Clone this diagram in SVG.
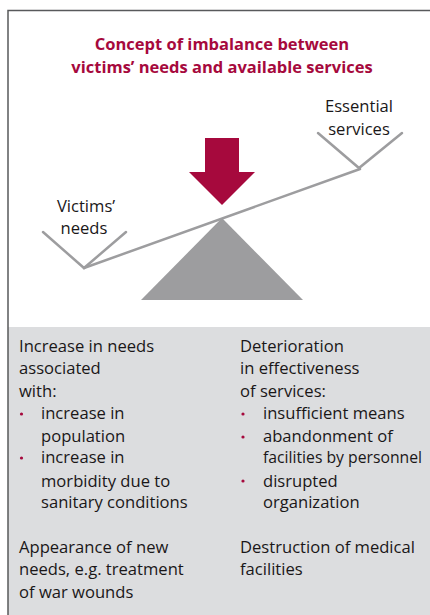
<svg xmlns="http://www.w3.org/2000/svg" width="430" height="615" viewBox="0 0 430 615">
<style>
.t{font-family:"Open Sans","Noto Sans","Liberation Sans",sans-serif;font-size:16.6px;fill:#1a1718}
.h{font-family:"Open Sans","Noto Sans","Liberation Sans",sans-serif;font-size:16.5px;font-weight:bold;fill:#a6093d}
.g{stroke:#9d9d9f;stroke-width:2.5;fill:none;stroke-linecap:round}
.b{fill:#a6093d}
</style>
<rect x="0" y="0" width="430" height="615" fill="#ffffff"/>
<rect x="8" y="327" width="422" height="288" fill="#dcdddf"/>
<path d="M8,615 V10.5 H430" fill="none" stroke="#58595b" stroke-width="1.5"/>
<g id="title">
<text class="h" x="222" y="50" text-anchor="middle">Concept of imbalance between</text>
<text class="h" x="222" y="73" text-anchor="middle">victims’ needs and available services</text>
</g>
<g id="fulcrum"><polygon points="222,218 303,300 141,300" fill="#9d9d9f"/></g>
<g id="connectors">
<line class="g" x1="84" y1="268" x2="360" y2="169"/>
<polyline class="g" points="43,232 84,268 126,232"/>
<polyline class="g" points="318,133 359,168 402,133"/>
</g>
<g id="arrow"><polygon class="b" points="205,138 239,138 239,172 255,172 222,205 189,172 205,172"/></g>
<g id="essential">
<text class="t" x="359" y="112" text-anchor="middle">Essential</text>
<text class="t" x="359" y="135" text-anchor="middle">services</text>
</g>
<g id="victims">
<text class="t" x="86" y="212" text-anchor="middle">Victims’</text>
<text class="t" x="84" y="234" text-anchor="middle">needs</text>
</g>
<g id="left-column">
<text class="t" x="19" y="352">Increase in needs</text>
<text class="t" x="19" y="374">associated</text>
<text class="t" x="19" y="397">with:</text>
<circle class="b" cx="21.5" cy="414" r="1.6"/>
<text class="t" x="41" y="419">increase in</text>
<text class="t" x="41" y="442">population</text>
<circle class="b" cx="21.5" cy="458" r="1.6"/>
<text class="t" x="41" y="463">increase in</text>
<text class="t" x="41" y="487">morbidity due to</text>
<text class="t" x="41" y="508">sanitary conditions</text>
<text class="t" x="19" y="553">Appearance of new</text>
<text class="t" x="19" y="575">needs, e.g. treatment</text>
<text class="t" x="19" y="598">of war wounds</text>
</g>
<g id="right-column">
<text class="t" x="240" y="352">Deterioration</text>
<text class="t" x="240" y="374">in effectiveness</text>
<text class="t" x="240" y="397">of services:</text>
<circle class="b" cx="243" cy="414" r="1.6"/>
<text class="t" x="263" y="419">insufficient means</text>
<circle class="b" cx="243" cy="437" r="1.6"/>
<text class="t" x="263" y="442">abandonment of</text>
<text class="t" x="263" y="463" textLength="159" lengthAdjust="spacingAndGlyphs">facilities by personnel</text>
<circle class="b" cx="243" cy="481" r="1.6"/>
<text class="t" x="263" y="487">disrupted</text>
<text class="t" x="263" y="508">organization</text>
<text class="t" x="240" y="553">Destruction of medical</text>
<text class="t" x="240" y="575">facilities</text>
</g>
</svg>
